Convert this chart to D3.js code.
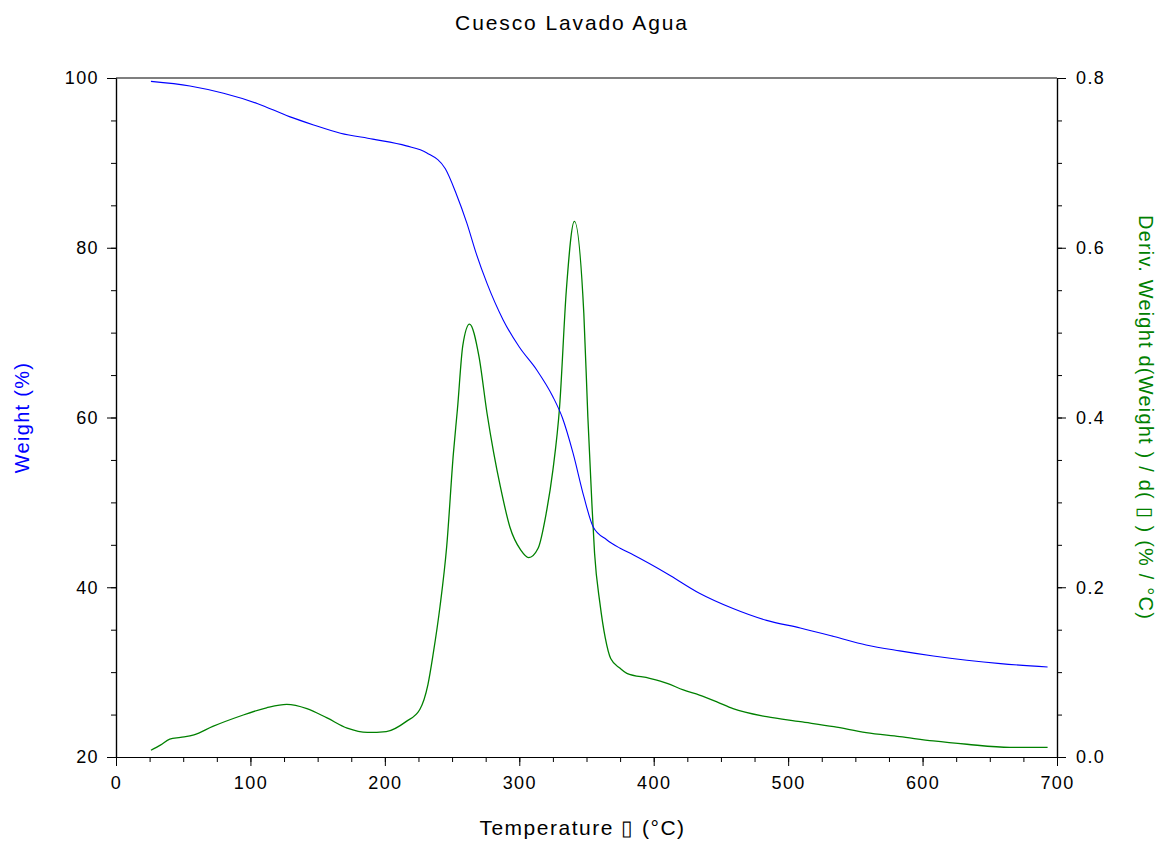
<!DOCTYPE html>
<html>
<head>
<meta charset="utf-8">
<script src="https://cdn.jsdelivr.net/npm/d3@7"></script>
<style>
  body { margin: 0; background: #fff; }
  svg text { font-family: "Liberation Sans", Arial, sans-serif; }
</style>
</head>
<body>
<svg id="chart" width="1158" height="841"></svg>
<script>
// TGA curve (weight %)
var tempW = [26, 55, 80, 105, 129, 147, 167, 191, 216, 231, 245, 253, 261, 268, 276, 288, 300, 313, 325, 332,
             340, 348, 355, 365, 375, 385, 410, 434, 459, 484, 509, 534, 558, 583, 608, 633, 658, 693];
var weight = [99.6, 99.06, 98.2, 97.0, 95.45, 94.47, 93.5, 92.8, 92.0, 91.2, 89.3, 86.4, 82.9, 79.3, 75.8, 71.5, 68.3, 65.6, 62.45, 60.0,
              55.8, 50.7, 47.1, 45.6, 44.6, 43.8, 41.6, 39.3, 37.5, 36.1, 35.2, 34.2, 33.2, 32.5, 31.9, 31.4, 31.0, 30.6];

// DTG curve (deriv. weight %/°C)
var tempD = [26, 33, 40, 48, 58, 72, 92, 112, 127, 142, 157, 172, 187, 201, 216, 226, 232, 236, 241, 246,
             251, 254, 258, 263, 270, 276, 281, 286, 293, 301, 307, 314, 320, 325, 330, 335, 341, 348, 351, 354,
             356, 360, 364, 368, 375, 380, 397, 410, 422, 434, 447, 459, 484, 509, 534, 558, 583, 608, 633, 665, 693];
var deriv = [0.008, 0.014, 0.021, 0.023, 0.026, 0.036, 0.048, 0.058, 0.062, 0.057, 0.046, 0.034, 0.029, 0.030, 0.042, 0.056, 0.085, 0.122, 0.177, 0.248,
             0.358, 0.410, 0.485, 0.510, 0.472, 0.405, 0.358, 0.318, 0.271, 0.244, 0.235, 0.246, 0.287, 0.338, 0.413, 0.550, 0.631, 0.523, 0.401, 0.299,
             0.240, 0.181, 0.14, 0.116, 0.1045, 0.0986, 0.0927, 0.0868, 0.079, 0.073, 0.065, 0.057, 0.0475, 0.0416, 0.0357, 0.0286, 0.024, 0.0189, 0.015, 0.0114, 0.0114];

var xTicks = [0, 100, 200, 300, 400, 500, 600, 700];
var yLeftTicks = [20, 40, 60, 80, 100];
var yRightTicks = [0.0, 0.2, 0.4, 0.6, 0.8];

var margin = {top: 78, right: 101, bottom: 84, left: 116};
var width = 1158 - margin.left - margin.right,
    height = 841 - margin.top - margin.bottom;

var svg = d3.select("#chart");
var g = svg.append("g").attr("transform", "translate(" + margin.left + "," + margin.top + ")");

var xScale = d3.scaleLinear().domain([0, 700]).range([0, width]);
var yLeft = d3.scaleLinear().domain([20, 100]).range([height, 0]);
var yRight = d3.scaleLinear().domain([0, 0.8]).range([height, 0]);

function styleAxis(sel) {
    sel.select(".domain").attr("stroke", "#000").attr("stroke-width", 1.2);
    sel.selectAll(".tick line").attr("stroke", "#000");
    sel.selectAll("text").attr("font-size", 18).attr("fill", "#000")
        .attr("letter-spacing", 1.4)
        .style("font-family", "'Liberation Sans', Arial, sans-serif");
}

// minor ticks first (no labels)
g.append("g").attr("transform", "translate(0," + height + ")")
    .call(d3.axisBottom(xScale).tickValues(d3.range(0, 701, 25)).tickSize(5).tickFormat("").tickSizeOuter(0))
    .call(styleAxis);
g.append("g")
    .call(d3.axisLeft(yLeft).tickValues(d3.range(20, 101, 5)).tickSize(5).tickFormat("").tickSizeOuter(0))
    .call(styleAxis);
g.append("g").attr("transform", "translate(" + width + ",0)")
    .call(d3.axisRight(yRight).tickValues(d3.range(0, 0.801, 0.05)).tickSize(5).tickFormat("").tickSizeOuter(0))
    .call(styleAxis);

// major ticks
g.append("g").attr("transform", "translate(0," + height + ")")
    .call(d3.axisBottom(xScale).tickValues(xTicks).tickSize(9).tickPadding(10).tickFormat(d3.format("d")).tickSizeOuter(0))
    .call(styleAxis);
g.append("g")
    .call(d3.axisLeft(yLeft).tickValues(yLeftTicks).tickSize(9).tickPadding(8).tickFormat(d3.format("d")).tickSizeOuter(0))
    .call(styleAxis);
g.append("g").attr("transform", "translate(" + width + ",0)")
    .call(d3.axisRight(yRight).tickValues(yRightTicks).tickSize(9).tickPadding(10).tickFormat(d3.format(".1f")).tickSizeOuter(0))
    .call(styleAxis);

// top frame line
g.append("line").attr("x1", 0).attr("x2", width).attr("y1", 0).attr("y2", 0)
    .attr("stroke", "#000").attr("stroke-width", 1.2);

// curves
var weightLine = d3.line()
    .x(function(d, i) { return xScale(tempW[i]); })
    .y(function(d) { return yLeft(d); })
    .curve(d3.curveMonotoneX);
var derivLine = d3.line()
    .x(function(d, i) { return xScale(tempD[i]); })
    .y(function(d) { return yRight(d); })
    .curve(d3.curveMonotoneX);

g.append("path").datum(deriv).attr("d", derivLine)
    .attr("fill", "none").attr("stroke", "#008000").attr("stroke-width", 1.3);
g.append("path").datum(weight).attr("d", weightLine)
    .attr("fill", "none").attr("stroke", "#0000ff").attr("stroke-width", 1.1);

// texts
svg.append("text").attr("x", 572).attr("y", 30).attr("text-anchor", "middle")
    .attr("font-size", 21).attr("letter-spacing", 1.9).attr("fill", "#000").text("Cuesco Lavado Agua");

svg.append("text").attr("x", margin.left + width / 2 - 4).attr("y", 835).attr("text-anchor", "middle")
    .attr("font-size", 21).attr("letter-spacing", 1.5).attr("fill", "#000").text("Temperature \u25AF  (°C)");

svg.append("text")
    .attr("transform", "translate(29," + (margin.top + height / 2) + ") rotate(-90)")
    .attr("text-anchor", "middle").attr("font-size", 20).attr("letter-spacing", 1.3).attr("fill", "#0000ff")
    .text("Weight  (%)");

svg.append("text")
    .attr("transform", "translate(1139," + (margin.top + height / 2) + ") rotate(90)")
    .attr("text-anchor", "middle").attr("font-size", 20).attr("letter-spacing", 1.2).attr("fill", "#008000")
    .text("Deriv. Weight d(Weight ) / d( \u25AF ) (% / °C)");
</script>
</body>
</html>
